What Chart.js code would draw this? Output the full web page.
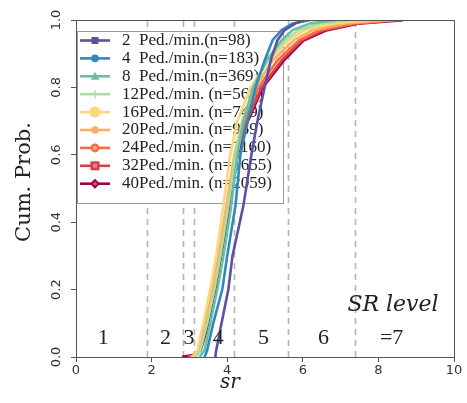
<!DOCTYPE html>
<html>
<head>
<meta charset="utf-8">
<script src="https://cdn.jsdelivr.net/npm/chart.js@4/dist/chart.umd.min.js"></script>
<style>
  html, body { margin: 0; padding: 0; background: #fff; }
  #wrap { width: 467px; height: 403px; position: relative; }
</style>
</head>
<body>
<div id="wrap"><canvas id="c"></canvas></div>
<script>
// cumulative probability levels shared by every curve
const probLevels = [0, 0.005, 0.02, 0.1, 0.2, 0.3, 0.45, 0.6, 0.7, 0.8, 0.88, 0.94, 0.97, 0.99, 1.0];

// sr value reached at each probability level, per flow rate
const sr2  = [3.68, 3.69, 3.71, 3.85, 4.03, 4.14, 4.43, 4.64, 4.80, 4.99, 5.15, 5.33, 5.52, 5.81, 6.07];
const sr4  = [3.40, 3.42, 3.47, 3.63, 3.87, 4.00, 4.22, 4.35, 4.54, 4.75, 4.99, 5.20, 5.44, 5.73, 6.20];
const sr8  = [3.27, 3.30, 3.40, 3.55, 3.74, 3.90, 4.11, 4.27, 4.43, 4.69, 5.04, 5.44, 5.73, 6.20, 6.87];
const sr12 = [3.16, 3.20, 3.29, 3.47, 3.66, 3.82, 4.03, 4.22, 4.40, 4.69, 5.07, 5.52, 5.89, 6.47, 7.27];
const sr16 = [3.06, 3.12, 3.21, 3.37, 3.55, 3.71, 3.90, 4.08, 4.27, 4.62, 5.09, 5.62, 6.05, 6.74, 7.80];
const sr20 = [3.06, 3.14, 3.24, 3.42, 3.61, 3.77, 3.98, 4.19, 4.40, 4.75, 5.20, 5.76, 6.26, 7.14, 8.33];
const sr24 = [3.00, 3.12, 3.24, 3.45, 3.63, 3.79, 4.00, 4.22, 4.46, 4.83, 5.33, 5.90, 6.45, 7.35, 8.46];
const sr32 = [2.95, 3.12, 3.26, 3.47, 3.66, 3.82, 4.03, 4.24, 4.51, 4.91, 5.44, 5.98, 6.55, 7.42, 8.59];
const sr40 = [2.81, 3.10, 3.29, 3.50, 3.69, 3.85, 4.06, 4.27, 4.54, 4.93, 5.49, 6.02, 6.62, 7.45, 8.65];

const flowRates = [2, 4, 8, 12, 16, 20, 24, 32, 40];
const sampleSizes = [98, 183, 369, 565, 749, 989, 1160, 1655, 2059];
const seriesSr = [sr2, sr4, sr8, sr12, sr16, sr20, sr24, sr32, sr40];
const colors = ['#5e4fa2', '#3288bd', '#66c2a5', '#abdda4', '#f9d77a', '#fdae61', '#f46d43', '#d53e4f', '#9e0142'];
const markers = ['square', 'circle', 'triangle', 'plus', 'bigcircle', 'circle', 'ring', 'boxring', 'diamond'];

// SR level thresholds (dashed lines) and level labels
const levelBounds = [1.88, 2.83, 3.13, 4.17, 5.62, 7.39];
const levelLabels = ['1', '2', '3', '4', '5', '6', '=7'];
const levelLabelX = [0.72, 2.37, 2.99, 3.76, 4.96, 6.55, 8.35];

const yTicks = [0, 0.2, 0.4, 0.6, 0.8, 1.0];

const datasets = flowRates.map((f, i) => ({
  label: (f < 10 ? f + ' Ped./min.(n=' : f + 'Ped./min. (n=') + sampleSizes[i] + ')',
  data: seriesSr[i].map((v, k) => ({ x: v, y: probLevels[k] })),
  borderColor: colors[i],
  backgroundColor: colors[i],
  borderWidth: i === 8 ? 3.2 : 2.6,
  showLine: true,
  pointRadius: 0,
  tension: 0
}));

function drawMarker(ctx, type, x, y, color) {
  ctx.save();
  ctx.fillStyle = color;
  ctx.strokeStyle = color;
  ctx.lineWidth = 1.5;
  ctx.beginPath();
  if (type === 'square') {
    ctx.rect(x - 3.5, y - 3.5, 7, 7); ctx.fill();
  } else if (type === 'circle') {
    ctx.arc(x, y, 3.8, 0, Math.PI * 2); ctx.fill();
  } else if (type === 'bigcircle') {
    ctx.arc(x, y, 5.5, 0, Math.PI * 2); ctx.fill();
  } else if (type === 'triangle') {
    ctx.moveTo(x, y - 4.5); ctx.lineTo(x + 4.5, y + 3.5); ctx.lineTo(x - 4.5, y + 3.5); ctx.closePath(); ctx.fill();
  } else if (type === 'plus') {
    ctx.moveTo(x - 4, y); ctx.lineTo(x + 4, y); ctx.moveTo(x, y - 4); ctx.lineTo(x, y + 4); ctx.stroke();
  } else if (type === 'ring') {
    ctx.arc(x, y, 4.5, 0, Math.PI * 2); ctx.fill();
    ctx.beginPath(); ctx.fillStyle = 'rgba(255,255,255,0.45)'; ctx.arc(x, y, 2, 0, Math.PI * 2); ctx.fill();
  } else if (type === 'boxring') {
    ctx.rect(x - 4.5, y - 4.5, 9, 9); ctx.fill();
    ctx.beginPath(); ctx.fillStyle = 'rgba(255,255,255,0.35)'; ctx.rect(x - 2, y - 2, 4, 4); ctx.fill();
  } else if (type === 'diamond') {
    ctx.moveTo(x, y - 5); ctx.lineTo(x + 5, y); ctx.lineTo(x, y + 5); ctx.lineTo(x - 5, y); ctx.closePath(); ctx.fill();
    ctx.beginPath(); ctx.fillStyle = 'rgba(255,255,255,0.35)'; ctx.arc(x, y, 1.8, 0, Math.PI * 2); ctx.fill();
  }
  ctx.restore();
}

const decorations = {
  id: 'decorations',
  beforeDatasetsDraw(chart) {
    const { ctx, chartArea: a, scales: { x } } = chart;
    ctx.save();
    // dashed level boundaries
    ctx.strokeStyle = '#b4b4b4';
    ctx.lineWidth = 1.6;
    ctx.setLineDash([6, 5]);
    levelBounds.forEach(b => {
      const px = Math.round(x.getPixelForValue(b)) + 0.5;
      ctx.beginPath(); ctx.moveTo(px, a.bottom); ctx.lineTo(px, a.top); ctx.stroke();
    });
    ctx.setLineDash([]);
    // legend box
    const lx = a.left + 1, ly = 31, lw = 206, lh = 172;
    ctx.fillStyle = '#fff';
    ctx.fillRect(lx, ly, lw, lh);
    ctx.strokeStyle = '#9a9a9a';
    ctx.lineWidth = 1;
    ctx.strokeRect(lx + 0.5, ly + 0.5, lw, lh);
    ctx.font = '17px "Liberation Serif"';
    ctx.textBaseline = 'middle';
    ctx.fillStyle = '#222';
    flowRates.forEach((f, i) => {
      const y = 40.5 + i * 17.9;
      ctx.strokeStyle = colors[i];
      ctx.lineWidth = 2.6;
      ctx.beginPath(); ctx.moveTo(80, y); ctx.lineTo(110, y); ctx.stroke();
      drawMarker(ctx, markers[i], 95, y, colors[i]);
      ctx.fillStyle = '#222';
      ctx.textAlign = 'left';
      ctx.fillText(String(f), 122, y);
      ctx.fillText(f < 10 ? 'Ped./min.(n=' + sampleSizes[i] + ')' : 'Ped./min. (n=' + sampleSizes[i] + ')', 139, y);
    });
    ctx.restore();
  },
  afterDatasetsDraw(chart) {
    const { ctx, scales: { x } } = chart;
    ctx.save();
    ctx.fillStyle = '#222';
    ctx.textAlign = 'center';
    ctx.textBaseline = 'middle';
    ctx.font = '22px "Liberation Serif"';
    levelLabels.forEach((t, i) => {
      ctx.fillText(t, x.getPixelForValue(levelLabelX[i]), 338);
    });
    ctx.font = 'italic 22px "DejaVu Serif"';
    ctx.fillText('SR level', 393, 305);
    ctx.restore();
  },
  afterDraw(chart) {
    const { ctx, chartArea: a, scales: { y } } = chart;
    ctx.save();
    // frame
    ctx.strokeStyle = '#555';
    ctx.lineWidth = 1;
    ctx.strokeRect(a.left + 0.5, a.top + 0.5, a.right - a.left, a.bottom - a.top);
    // rotated y tick labels
    ctx.fillStyle = '#333';
    ctx.font = '13px "DejaVu Sans"';
    ctx.textAlign = 'center';
    ctx.textBaseline = 'middle';
    yTicks.forEach(v => {
      ctx.save();
      ctx.translate(57, y.getPixelForValue(v));
      ctx.rotate(-Math.PI / 2);
      ctx.fillText(v.toFixed(1), 0, 0);
      ctx.restore();
    });
    // axis titles
    ctx.fillStyle = '#222';
    ctx.font = '21px "DejaVu Serif"';
    ctx.save();
    ctx.translate(25, 182);
    ctx.rotate(-Math.PI / 2);
    ctx.fillText('Cum. Prob.', 0, 0);
    ctx.restore();
    ctx.font = 'italic 20px "DejaVu Serif"';
    ctx.fillText('sr', 230, 383);
    ctx.restore();
  }
};

new Chart(document.getElementById('c'), {
  type: 'scatter',
  data: { datasets },
  options: {
    responsive: true,
    maintainAspectRatio: false,
    animation: false,
    layout: { padding: { left: 0, right: 13, top: 20, bottom: 0 } },
    plugins: { legend: { display: false }, tooltip: { enabled: false } },
    scales: {
      x: {
        type: 'linear',
        min: 0, max: 10,
        ticks: { stepSize: 2, color: '#333', font: { family: 'DejaVu Sans', size: 13 }, padding: 1, maxRotation: 0 },
        grid: { drawOnChartArea: false, tickLength: 5, color: '#555' },
        border: { color: '#555' },
        afterFit(s) { s.height = 46; }
      },
      y: {
        min: 0, max: 1,
        ticks: { stepSize: 0.2, display: false },
        grid: { drawOnChartArea: false, tickLength: 5, color: '#555' },
        border: { color: '#555' },
        afterFit(s) { s.width = 76; }
      }
    }
  },
  plugins: [decorations]
});
</script>
</body>
</html>
